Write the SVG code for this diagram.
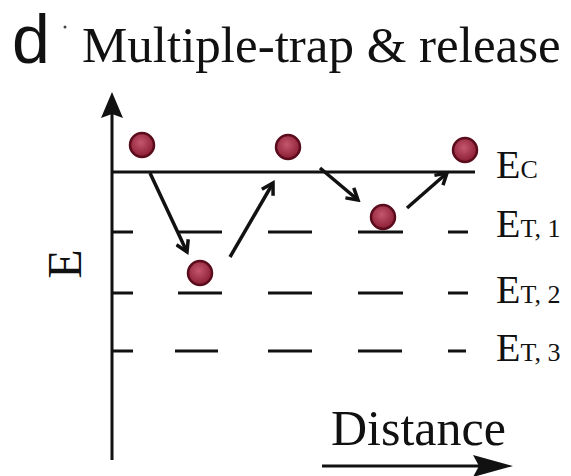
<svg xmlns="http://www.w3.org/2000/svg" width="571" height="476" viewBox="0 0 571 476">
<style>
.ln{stroke:#111;stroke-width:3;fill:none}
.ar{stroke:#111;stroke-width:3.5;fill:none;marker-end:url(#ah)}
.dot{fill:url(#rg);stroke:#5a0c1c;stroke-width:2.5}
.t{font-family:"Liberation Serif",serif;fill:#111}
</style>
<defs>
<marker id="ah" markerWidth="16" markerHeight="16" refX="13" refY="8" orient="auto" markerUnits="userSpaceOnUse">
<path d="M2,1.5 L13,8 L2,14.5" fill="none" stroke="#111" stroke-width="3.5" stroke-linejoin="miter"/>
</marker>
<radialGradient id="rg" cx="0.45" cy="0.4" r="0.6">
<stop offset="0" stop-color="#c4566e"/>
<stop offset="1" stop-color="#8a1d34"/>
</radialGradient>
</defs>
<rect width="571" height="476" fill="#fff"/>
<g id="title">
<text x="12" y="63" font-family="Liberation Sans,sans-serif" font-size="68" fill="#111">d</text>
<circle cx="65" cy="27" r="1.5" fill="#444"/>
<text class="t" x="82" y="62" font-size="51">Multiple-trap &amp; release</text>
</g>
<g id="axes">
<line class="ln" x1="112" y1="460" x2="112" y2="112"/>
<path d="M112,92 L123,118 L112,114 L101,118 Z" fill="#111"/>
<line class="ln" x1="322" y1="466" x2="480" y2="466"/>
<path d="M513,466 L473,455 L479,466 L473,477 Z" fill="#111"/>
<text class="t" font-size="48" transform="translate(81,264) rotate(-90)" text-anchor="middle">E</text>
<text class="t" x="331" y="445" font-size="50">Distance</text>
</g>
<g id="levels">
<line class="ln" x1="112" y1="172" x2="475" y2="172"/>
<path class="ln" d="M112,232H133M178,232H222M268,232H312M358,232H403M448,232H468"/>
<path class="ln" d="M112,293H133M178,293H222M268,293H312M358,293H403M448,293H468"/>
<path class="ln" d="M112,351H133M175,351H218M268,351H312M358,351H402M448,351H466"/>
<text class="t" x="496" y="178" font-size="40">E<tspan font-size="26">C</tspan></text>
<text class="t" x="496" y="237" font-size="40">E<tspan font-size="26">T, 1</tspan></text>
<text class="t" x="496" y="303" font-size="40">E<tspan font-size="26">T, 2</tspan></text>
<text class="t" x="496" y="361" font-size="40">E<tspan font-size="26">T, 3</tspan></text>
</g>
<g id="electrons">
<circle class="dot" cx="142" cy="145" r="12"/>
<circle class="dot" cx="200" cy="273" r="12"/>
<circle class="dot" cx="288" cy="147" r="12"/>
<circle class="dot" cx="383" cy="217" r="12"/>
<circle class="dot" cx="465" cy="150" r="12"/>
</g>
<g id="connectors">
<line class="ar" x1="150" y1="173" x2="187" y2="252"/>
<line class="ar" x1="230" y1="257" x2="273" y2="183"/>
<line class="ar" x1="320" y1="168" x2="358" y2="200"/>
<line class="ar" x1="407" y1="208" x2="447" y2="173"/>
</g>
</svg>
